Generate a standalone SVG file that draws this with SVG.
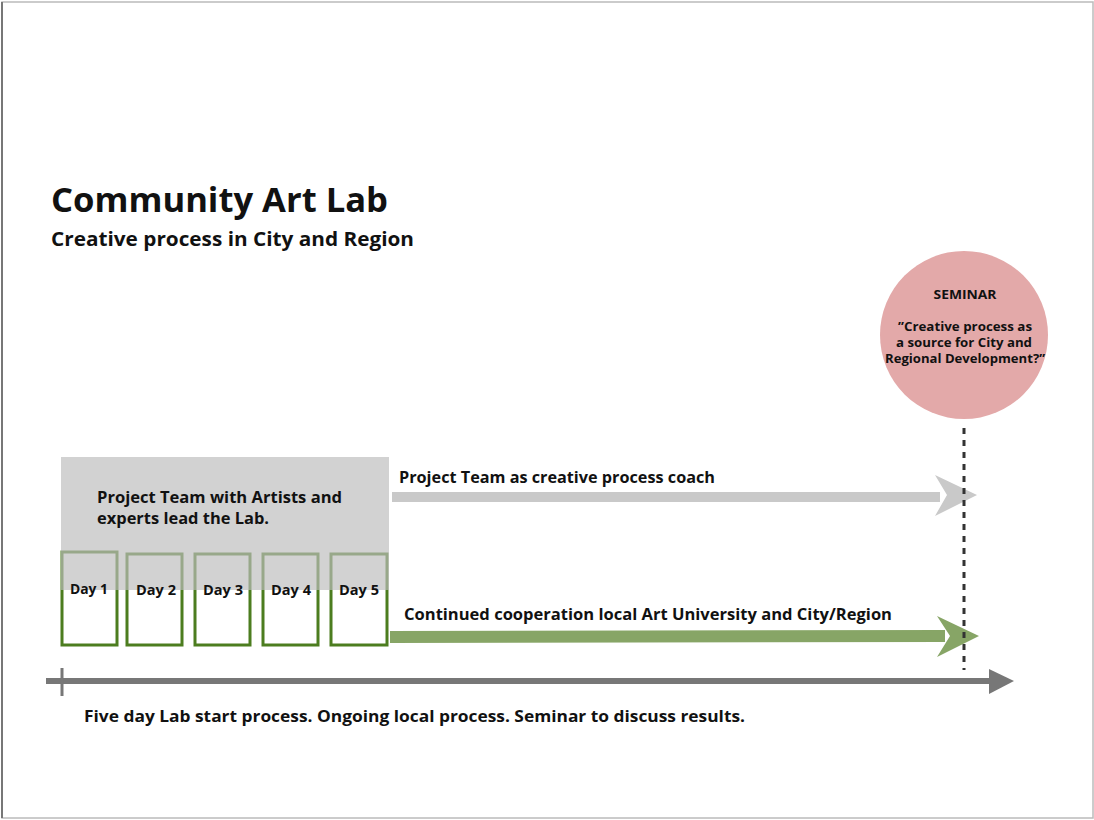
<svg xmlns="http://www.w3.org/2000/svg" width="1094" height="820" viewBox="0 0 1094 820">
<defs>
<style>
text{font-family:"Open Sans",Lato,"Liberation Sans",sans-serif;font-weight:bold;fill:#111}
.day{fill:none;stroke:#4c7d1f;stroke-width:3}
.lbl{font-size:15.5px}
.dl{font-size:13.5px;text-anchor:middle}
.sem{font-size:11.5px;text-anchor:middle}
</style>
</defs>
<rect x="0" y="0" width="1094" height="820" fill="#fff"/>
<rect x="2" y="2" width="1091" height="816" fill="none" stroke="#bbb" stroke-width="1.5"/>
<line x1="2" y1="2" x2="2" y2="818" stroke="#777" stroke-width="2"/>
<g id="title">
<text x="51" y="212" font-size="34" textLength="337" lengthAdjust="spacingAndGlyphs">Community Art Lab</text>
<text x="51" y="246" font-size="19.5" textLength="363" lengthAdjust="spacingAndGlyphs">Creative process in City and Region</text>
</g>
<g id="days">
<rect class="day" x="62" y="552" width="55" height="93"/>
<rect class="day" x="127" y="554" width="55" height="91"/>
<rect class="day" x="195" y="554" width="55" height="91"/>
<rect class="day" x="263" y="554" width="55" height="91"/>
<rect class="day" x="331" y="554" width="56" height="91"/>
</g>
<g id="lab">
<rect x="61" y="457" width="328" height="133" fill="#bcbcbc" fill-opacity="0.68"/>
<text class="lbl" x="97" y="503" textLength="245" lengthAdjust="spacingAndGlyphs">Project Team with Artists and</text>
<text class="lbl" x="97" y="524" textLength="172" lengthAdjust="spacingAndGlyphs">experts lead the Lab.</text>
</g>
<g id="daylabels">
<text class="dl" x="89" y="594" textLength="38" lengthAdjust="spacingAndGlyphs">Day 1</text>
<text class="dl" x="156" y="595" textLength="40" lengthAdjust="spacingAndGlyphs">Day 2</text>
<text class="dl" x="223" y="595" textLength="40" lengthAdjust="spacingAndGlyphs">Day 3</text>
<text class="dl" x="291" y="595" textLength="40" lengthAdjust="spacingAndGlyphs">Day 4</text>
<text class="dl" x="359" y="595" textLength="40" lengthAdjust="spacingAndGlyphs">Day 5</text>
</g>
<g id="seminar">
<circle cx="964" cy="335" r="84" fill="#e3a9a9"/>
<text class="sem" x="965" y="299" font-size="12.5" textLength="63" lengthAdjust="spacingAndGlyphs">SEMINAR</text>
<text class="sem" x="965" y="331" textLength="134" lengthAdjust="spacingAndGlyphs">”Creative process as</text>
<text class="sem" x="964" y="347" textLength="136" lengthAdjust="spacingAndGlyphs">a source for City and</text>
<text class="sem" x="965" y="363" textLength="160" lengthAdjust="spacingAndGlyphs">Regional Development?”</text>
</g>
<g id="connectors">
<line x1="392" y1="497" x2="940" y2="497" stroke="#c9c9c9" stroke-width="10"/>
<polygon points="935,475 977,495 935,516 947,495" fill="#c9c9c9"/>
<line x1="390" y1="637" x2="945" y2="636" stroke="#87a566" stroke-width="12"/>
<polygon points="937,616 979,636 937,657 950,636" fill="#87a566"/>
<line x1="964" y1="428" x2="964" y2="670" stroke="#333" stroke-width="3" stroke-dasharray="6,6"/>
<line x1="46" y1="681" x2="995" y2="681" stroke="#777" stroke-width="6"/>
<line x1="62" y1="668" x2="62" y2="696" stroke="#777" stroke-width="3"/>
<polygon points="989,669 1014,681 989,694" fill="#777"/>
</g>
<g id="labels">
<text class="lbl" x="399" y="483" textLength="316" lengthAdjust="spacingAndGlyphs">Project Team as creative process coach</text>
<text class="lbl" x="404" y="620" textLength="488" lengthAdjust="spacingAndGlyphs">Continued cooperation local Art University and City/Region</text>
<text class="lbl" x="84" y="722" textLength="661" lengthAdjust="spacingAndGlyphs">Five day Lab start process. Ongoing local process. Seminar to discuss results.</text>
</g>
</svg>
